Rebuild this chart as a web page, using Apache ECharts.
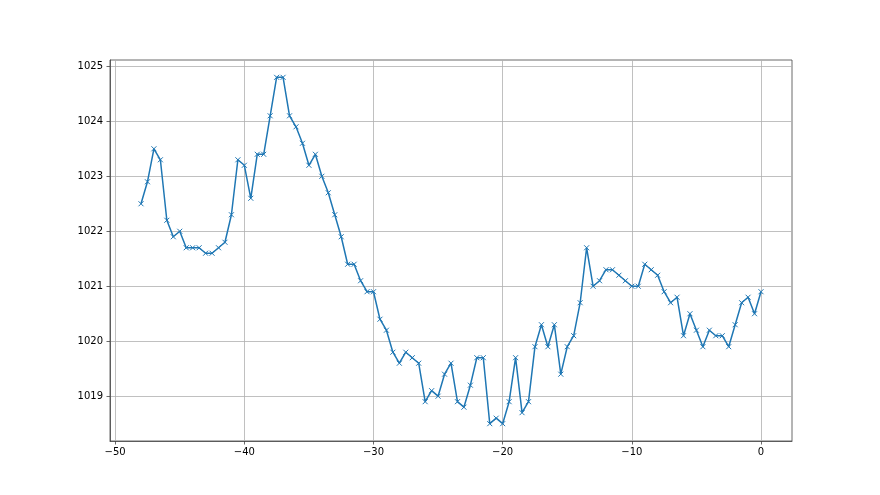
<!DOCTYPE html>
<html>
<head>
<meta charset="utf-8">
<script src="https://cdn.jsdelivr.net/npm/echarts@6/dist/echarts.min.js"></script>
<style>
  html, body { margin: 0; padding: 0; background: #fff; }
  #main { width: 880px; height: 495px; }
</style>
</head>
<body>
<div id="main"></div>
<script>
// x positions (time offsets) and readings
var xs = [
  -48, -47.5, -47, -46.5, -46, -45.5, -45, -44.5, -44, -43.5,
  -43, -42.5, -42, -41.5, -41, -40.5, -40, -39.5, -39, -38.5,
  -38, -37.5, -37, -36.5, -36, -35.5, -35, -34.5, -34, -33.5,
  -33, -32.5, -32, -31.5, -31, -30.5, -30, -29.5, -29, -28.5,
  -28, -27.5, -27, -26.5, -26, -25.5, -25, -24.5, -24, -23.5,
  -23, -22.5, -22, -21.5, -21, -20.5, -20, -19.5, -19, -18.5,
  -18, -17.5, -17, -16.5, -16, -15.5, -15, -14.5, -14, -13.5,
  -13, -12.5, -12, -11.5, -11, -10.5, -10, -9.5, -9, -8.5,
  -8, -7.5, -7, -6.5, -6, -5.5, -5, -4.5, -4, -3.5,
  -3, -2.5, -2, -1.5, -1, -0.5, 0
];
var pressure = [
  1022.5, 1022.9, 1023.5, 1023.3, 1022.2, 1021.9, 1022.0, 1021.7, 1021.7, 1021.7,
  1021.6, 1021.6, 1021.7, 1021.8, 1022.3, 1023.3, 1023.2, 1022.6, 1023.4, 1023.4,
  1024.1, 1024.8, 1024.8, 1024.1, 1023.9, 1023.6, 1023.2, 1023.4, 1023.0, 1022.7,
  1022.3, 1021.9, 1021.4, 1021.4, 1021.1, 1020.9, 1020.9, 1020.4, 1020.2, 1019.8,
  1019.6, 1019.8, 1019.7, 1019.6, 1018.9, 1019.1, 1019.0, 1019.4, 1019.6, 1018.9,
  1018.8, 1019.2, 1019.7, 1019.7, 1018.5, 1018.6, 1018.5, 1018.9, 1019.7, 1018.7,
  1018.9, 1019.9, 1020.3, 1019.9, 1020.3, 1019.4, 1019.9, 1020.1, 1020.7, 1021.7,
  1021.0, 1021.1, 1021.3, 1021.3, 1021.2, 1021.1, 1021.0, 1021.0, 1021.4, 1021.3,
  1021.2, 1020.9, 1020.7, 1020.8, 1020.1, 1020.5, 1020.2, 1019.9, 1020.2, 1020.1,
  1020.1, 1019.9, 1020.3, 1020.7, 1020.8, 1020.5, 1020.9
];
var xTicks = [-50, -40, -30, -20, -10, 0];
var yTicks = [1019, 1020, 1021, 1022, 1023, 1024, 1025];

var chart = echarts.init(document.getElementById('main'));

var pts = xs.map(function (x, i) { return [x, pressure[i]]; });

var labelStyle = {
  fontFamily: 'DejaVu Sans',
  fontSize: 10,
  color: '#000'
};

chart.setOption({
  animation: false,
  backgroundColor: '#fff',
  grid: {
    left: 110, top: 60, width: 682, height: 381,
    show: true, borderColor: '#444', borderWidth: 0.8
  },
  xAxis: {
    type: 'value',
    min: -50.4,
    max: 2.4,
    axisLine: { show: true, onZero: false, lineStyle: { color: '#444', width: 0.8 } },
    axisTick: { show: true, length: 3.5, customValues: xTicks, lineStyle: { color: '#444', width: 0.8 } },
    axisLabel: Object.assign({
      customValues: xTicks,
      margin: 6,
      formatter: function (v) { return String(v).replace('-', '\u2212'); }
    }, labelStyle),
    splitLine: { show: true, lineStyle: { color: '#b0b0b0', width: 0.8 } }
  },
  yAxis: {
    type: 'value',
    min: 1018.185,
    max: 1025.115,
    axisLine: { show: true, onZero: false, lineStyle: { color: '#444', width: 0.8 } },
    axisTick: { show: true, length: 3.5, customValues: yTicks, lineStyle: { color: '#444', width: 0.8 } },
    axisLabel: Object.assign({
      customValues: yTicks,
      margin: 7,
      formatter: function (v) { return String(v); }
    }, labelStyle),
    splitLine: { show: true, lineStyle: { color: '#b0b0b0', width: 0.8 } }
  },
  series: [{
    type: 'line',
    data: pts,
    symbol: 'path://M0,0L10,10M10,0L0,10',
    symbolSize: 5,
    showAllSymbol: true,
    lineStyle: { color: '#1f77b4', width: 1.5 },
    itemStyle: { color: '#1f77b4', borderColor: '#1f77b4', borderWidth: 1 }
  }]
});
</script>
</body>
</html>
